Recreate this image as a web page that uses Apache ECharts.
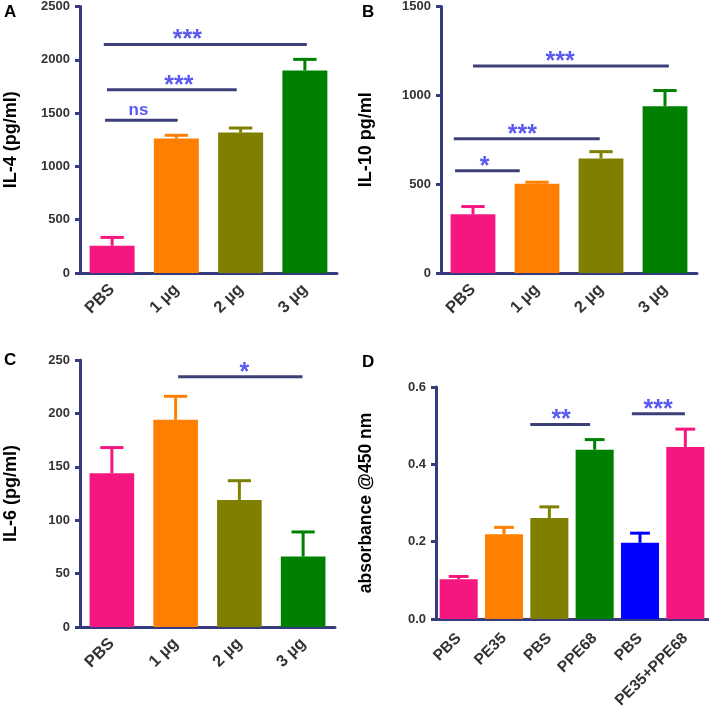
<!DOCTYPE html>
<html><head><meta charset="utf-8">
<script src="https://cdn.jsdelivr.net/npm/echarts@6/dist/echarts.min.js"></script>
<style>html,body{margin:0;padding:0;background:#fff}#c{width:709px;height:714px}</style>
</head><body><div id="c"></div>
<script>
// ---------- data ----------
const catsABC = ['PBS', '1 µg', '2 µg', '3 µg'];
const catsD = ['PBS', 'PE35', 'PBS', 'PPE68', 'PBS', 'PE35+PPE68'];
const colorsABC = ['#f5177f', '#ff8000', '#808000', '#008000'];
const colorsD = ['#f5177f', '#ff8000', '#808000', '#008000', '#0000ff', '#f5177f'];

const il4Mean = [256, 1261, 1317, 1900];
const il4Err  = [334, 1292, 1360, 2004];
const il10Mean = [331, 503, 645, 939];
const il10Err  = [374, 511, 683, 1027];
const il6Mean = [144, 194, 119, 66];
const il6Err  = [168, 216, 137, 89];
const absMean = [0.103, 0.219, 0.261, 0.438, 0.197, 0.445];
const absErr  = [0.110, 0.237, 0.290, 0.464, 0.222, 0.491];

// significance brackets: [fromCat, toCat, yValue, labelCat, label]
const sigA = [[-0.13, 3.03, 2144, 1.17, '***'], [-0.08, 1.94, 1720, 1.04, '***'], [-0.11, 1.02, 1433, 0.41, 'ns']];
const sigB = [[0.0, 3.06, 1165, 1.36, '***'], [-0.3, 1.98, 755, 0.77, '***'], [-0.28, 0.73, 576, 0.18, '*']];
const sigC = [[1.04, 2.99, 234.4, 2.08, '*']];
const sigD = [[1.58, 2.90, 0.503, 2.26, '**'], [3.82, 4.99, 0.531, 4.40, '***']];

const yNames = ['IL-4 (pg/ml)', 'IL-10 pg/ml', 'IL-6 (pg/ml)', 'absorbance @450 nm'];
const panelLetters = ['A', 'B', 'C', 'D'];

// ---------- styles ----------
const AXIS = '#363b7e';
const SIGLINE = '#3d4078';
const STAR = '#5a5af0';
const TXT = '#333333';

const grids = [
  {left: 80, top: 6, width: 257, height: 267},
  {left: 441, top: 6, width: 256, height: 267},
  {left: 80, top: 360, width: 255, height: 267},
  {left: 436, top: 387, width: 272, height: 232}
];
const yCfg = [
  {max: 2500, interval: 500, gap: 60, nameSize: 18},
  {max: 1500, interval: 500, gap: 66, nameSize: 18},
  {max: 250, interval: 50, gap: 60, nameSize: 18},
  {max: 0.6, interval: 0.2, gap: 61, nameSize: 17.5}
];
const xLabSize = [16.5, 16.5, 16.5, 15.5];
const xLabMargin = [14, 14, 14, 17];
const barW = ['70%', '70%', '70%', '84%'];
const barFrac = [0.70, 0.70, 0.70, 0.84];
const cats = [catsABC, catsABC, catsABC, catsD];
const cols = [colorsABC, colorsABC, colorsABC, colorsD];
const means = [il4Mean, il10Mean, il6Mean, absMean];
const errs = [il4Err, il10Err, il6Err, absErr];
const sigs = [sigA, sigB, sigC, sigD];

const xAxis = [], yAxis = [], series = [];
for (let g = 0; g < 4; g++) {
  xAxis.push({
    type: 'category', gridIndex: g, data: cats[g], boundaryGap: true,
    axisLine: {lineStyle: {color: AXIS, width: 3}},
    axisTick: {alignWithLabel: true, length: 5, lineStyle: {color: AXIS, width: 3}},
    axisLabel: {rotate: 45, margin: xLabMargin[g], color: TXT, fontWeight: 'bold', fontSize: xLabSize[g], fontFamily: 'Liberation Sans, Arial', interval: 0},
    splitLine: {show: false}
  });
  yAxis.push({
    type: 'value', gridIndex: g, min: 0, max: yCfg[g].max, interval: yCfg[g].interval,
    name: yNames[g], nameLocation: 'middle', nameGap: yCfg[g].gap, nameRotate: 90,
    nameTextStyle: {color: '#000', fontWeight: 'bold', fontSize: yCfg[g].nameSize, fontFamily: 'Liberation Sans, Arial'},
    axisLine: {show: true, lineStyle: {color: AXIS, width: 3}},
    axisTick: {show: true, length: 5, lineStyle: {color: AXIS, width: 3}},
    axisLabel: {margin: 10, color: TXT, fontWeight: 'bold', fontSize: 13, fontFamily: 'Liberation Sans, Arial',
      formatter: g === 3 ? (v => v.toFixed(1)) : (v => String(v))},
    splitLine: {show: false}
  });
  series.push({
    type: 'bar', xAxisIndex: g, yAxisIndex: g, barWidth: barW[g],
    data: means[g].map((v, i) => ({value: v, itemStyle: {color: cols[g][i]}})),
    z: 2
  });
  const frac = barFrac[g];
  const colsG = cols[g];
  series.push({
    type: 'custom', xAxisIndex: g, yAxisIndex: g, z: 3,
    data: means[g].map((v, i) => [i, v, errs[g][i]]),
    encode: {x: 0, y: 2},
    renderItem: function (params, api) {
      const i = api.value(0);
      const p1 = api.coord([i, api.value(1)]);
      const p2 = api.coord([i, api.value(2)]);
      const bw = api.size([1, 0])[0] * frac;
      const half = bw * 0.26;
      const c = colsG[params.dataIndex];
      return {type: 'group', children: [
        {type: 'line', shape: {x1: p1[0], y1: p1[1], x2: p2[0], y2: p2[1]}, style: {stroke: c, lineWidth: 3}},
        {type: 'line', shape: {x1: p2[0] - half, y1: p2[1], x2: p2[0] + half, y2: p2[1]}, style: {stroke: c, lineWidth: 3}}
      ]};
    }
  });
  const sg = sigs[g];
  series.push({
    type: 'custom', xAxisIndex: g, yAxisIndex: g, z: 4, clip: false,
    data: sg.map(s => [0, s[2], s[0], s[1], s[3]]),
    encode: {x: 0, y: 1},
    renderItem: function (params, api) {
      const base = api.coord([0, api.value(1)]);
      const w = api.size([1, 0])[0];
      const x1 = base[0] + api.value(2) * w;
      const x2 = base[0] + api.value(3) * w;
      const lx = base[0] + api.value(4) * w;
      const y = base[1];
      const lab = sg[params.dataIndex][4];
      const isNs = lab === 'ns';
      return {type: 'group', children: [
        {type: 'line', shape: {x1: x1, y1: y, x2: x2, y2: y}, style: {stroke: SIGLINE, lineWidth: 3}},
        {type: 'text', x: lx, y: isNs ? y - 10 : y - 4,
          style: {text: lab, fill: STAR, align: 'center', verticalAlign: 'middle',
            font: isNs ? 'bold 17px "Liberation Sans", Arial' : 'bold 25px "Liberation Sans", Arial'}}
      ]};
    }
  });
}

const letterPos = [[4, 4], [362, 4], [4, 352], [362, 354]];
const graphic = panelLetters.map((t, i) => ({
  type: 'text', left: letterPos[i][0], top: letterPos[i][1],
  style: {text: t, fill: '#000', font: 'bold 17px "Liberation Sans", Arial'}
}));

const chart = echarts.init(document.getElementById('c'), null, {renderer: 'canvas'});
chart.setOption({
  animation: false,
  backgroundColor: '#fff',
  grid: grids.map(g => Object.assign({containLabel: false}, g)),
  xAxis: xAxis, yAxis: yAxis, series: series, graphic: graphic
});
</script></body></html>
